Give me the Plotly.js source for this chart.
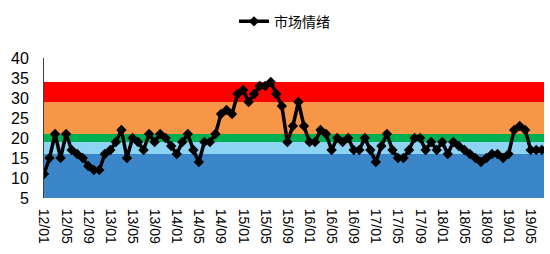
<!DOCTYPE html>
<html>
<head>
<meta charset="utf-8">
<script src="https://cdn.plot.ly/plotly-3.0.1.min.js"></script>
<style>html,body{margin:0;padding:0;background:#fff;}#chart{width:550px;height:254px;}</style>
</head>
<body>
<div id="chart"></div>
<script>
// Monthly categories 2012/01 .. 2019/07
const months = [];
for (let y = 12; y <= 19; y++) {
  for (let m = 1; m <= 12; m++) {
    if (y === 19 && m > 7) break;
    months.push(y + "/" + (m < 10 ? "0" + m : "" + m));
  }
}
const sentiment = [
  11,15,21,15,21,17,16,15,13,12,12,16,
  17,19,22,15,20,19,17,21,19,21,20,18,
  16,19,21,17,14,19,19,21,26,27,26,31,
  32,29,31,33,33,34,31,28,19,23,29,23,
  19,19,22,21,17,20,19,20,17,17,20,17,
  14,18,21,17,15,15,17,20,20,17,19,17,
  19,16,19,18,17,16,15,14,15,16,16,15,
  16,22,23,22,17,17,17
];
const seriesName = "市场情绪";
const tickLabels = months.filter((_, i) => i % 4 === 0);

// Background zones
const bandLow  = [5, 16, 19, 21, 29];
const bandHigh = [16, 19, 21, 29, 34];
const bandColor = ["#3A86C8", "#8DD3F3", "#00AF50", "#F79646", "#FF0000"];

const shapes = bandLow.map((lo, i) => ({
  type: "rect", xref: "paper", yref: "y", layer: "below",
  x0: 0, x1: 1, y0: lo, y1: bandHigh[i],
  fillcolor: bandColor[i], line: {width: 0}
}));

const trace = {
  x: months, y: sentiment, type: "scatter", mode: "lines+markers",
  name: seriesName, showlegend: true,
  line: {color: "#000000", width: 3.5},
  marker: {symbol: "diamond", size: 8, color: "#000000"}
};

const xRange = [0, 90.4];
const yRange = [5, 40];

const layout = {
  width: 550, height: 254,
  margin: {l: 44, r: 6, t: 55, b: 56},
  paper_bgcolor: "#ffffff", plot_bgcolor: "#ffffff",
  font: {family: "Liberation Sans, Arial, sans-serif", color: "#000"},
  shapes: shapes,
  showlegend: true,
  legend: {
    x: 0.481, xanchor: "center", y: 1.259, yanchor: "middle",
    orientation: "h", font: {family: "Noto Sans CJK SC, sans-serif", size: 14, color: "#000"},
    bgcolor: "rgba(0,0,0,0)"
  },
  xaxis: {
    type: "category", range: xRange,
    tickmode: "array", tickvals: tickLabels, ticktext: tickLabels,
    tickangle: 90, ticks: "outside", ticklen: 7, tickcolor: "rgba(0,0,0,0)",
    tickfont: {size: 14, family: "Liberation Sans, Arial, sans-serif"},
    showline: false, showgrid: false, zeroline: false
  },
  yaxis: {
    range: yRange, dtick: 5, tick0: 5,
    ticks: "outside", ticklen: 11, tickcolor: "rgba(0,0,0,0)",
    showline: true, linecolor: "#404040", linewidth: 1,
    tickfont: {size: 16, family: "Liberation Sans, Arial, sans-serif"},
    showgrid: false, zeroline: false
  },
  xaxis2: {
    type: "category", range: xRange, overlaying: "x", anchor: "y2",
    categoryarray: months, categoryorder: "array",
    tickmode: "array", tickvals: tickLabels, showticklabels: false,
    ticks: "inside", ticklen: 4, tickcolor: "#404040",
    showline: false, showgrid: false, zeroline: false
  },
  yaxis2: {
    range: yRange, dtick: 5, tick0: 5, overlaying: "y", anchor: "x2", side: "left",
    ticks: "inside", ticklen: 4, tickcolor: "#404040", showticklabels: false,
    showline: false, showgrid: false, zeroline: false
  }
};

Plotly.newPlot("chart", [trace], layout, {displayModeBar: false, staticPlot: true});
</script>
</body>
</html>
